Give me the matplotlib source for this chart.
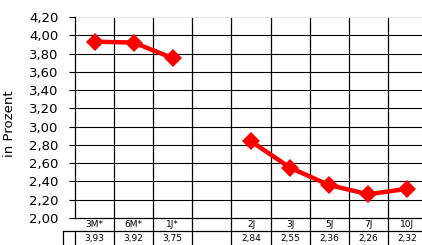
import numpy as np
import matplotlib.pyplot as plt
from matplotlib.transforms import blended_transform_factory

# Laufzeiten und Renditen
categories = ['3M*', '6M*', '1J*', '', '2J', '3J', '5J', '7J', '10J']
values = [3.93, 3.92, 3.75, np.nan, 2.84, 2.55, 2.36, 2.26, 2.32]
value_labels = ['3,93', '3,92', '3,75', '', '2,84', '2,55', '2,36', '2,26', '2,32']
yticks = [2.00, 2.20, 2.40, 2.60, 2.80, 3.00, 3.20, 3.40, 3.60, 3.80, 4.00, 4.20]

W, H = 422, 245
fig = plt.figure(figsize=(W / 100, H / 100), dpi=100)
ax = fig.add_axes([75 / W, 1 - 218 / H, 352 / W, 201 / H])

x = np.arange(len(categories))
ax.plot(x, values, color='#ff0000', linewidth=3.2, marker='D',
        markersize=9.5, markeredgewidth=0, zorder=5)

ax.set_xlim(-0.5, len(categories) - 0.5)
ax.set_ylim(2.0, 4.2)
ax.set_yticks(yticks)
ax.set_yticklabels([f'{v:.2f}'.replace('.', ',') for v in yticks], fontsize=9.5)
ax.tick_params(axis='y', length=4, width=0.8, pad=8, color='black')
ax.set_xticks([])

# horizontal grid
for v in yticks[1:-1]:
    ax.axhline(v, color='black', linewidth=0.8, zorder=1)
ax.axhline(4.2, color='#e8e8e8', linewidth=0.6, zorder=1)

for s in ['top', 'right', 'bottom']:
    ax.spines[s].set_visible(False)
ax.spines['left'].set_linewidth(0.9)

ax.set_ylabel('in Prozent', fontsize=9.5)
ax.yaxis.set_label_coords(-59 / 352, 0.47)

# vertical grid incl. table rows
tr = blended_transform_factory(ax.transData, ax.transAxes)
row = 13 / 201
top = 0.995
for b in np.arange(0.5, len(categories) - 0.5, 1.0):
    ax.plot([b, b], [-2 * row - 0.05, top], color='black', linewidth=0.9,
            transform=tr, clip_on=False, zorder=2)

# Datentabelle
ax.plot([-0.5, len(categories)], [0, 0], color='black', linewidth=0.9,
        transform=tr, clip_on=False)
ax.plot([-0.5 - 12 / 39, len(categories)], [-row, -row], color='black',
        linewidth=0.9, transform=tr, clip_on=False)
for b in [-0.5 - 12 / 39, -0.5]:
    ax.plot([b, b], [-row, -2 * row - 0.05], color='black', linewidth=0.9,
            transform=tr, clip_on=False)

for i, c in enumerate(categories):
    ax.text(i, -row / 2, c, transform=tr, ha='center', va='center', fontsize=6.5)
    ax.text(i, -1.55 * row, value_labels[i], transform=tr, ha='center',
            va='center', fontsize=6.5)

fig.savefig('out.png', dpi=100)
